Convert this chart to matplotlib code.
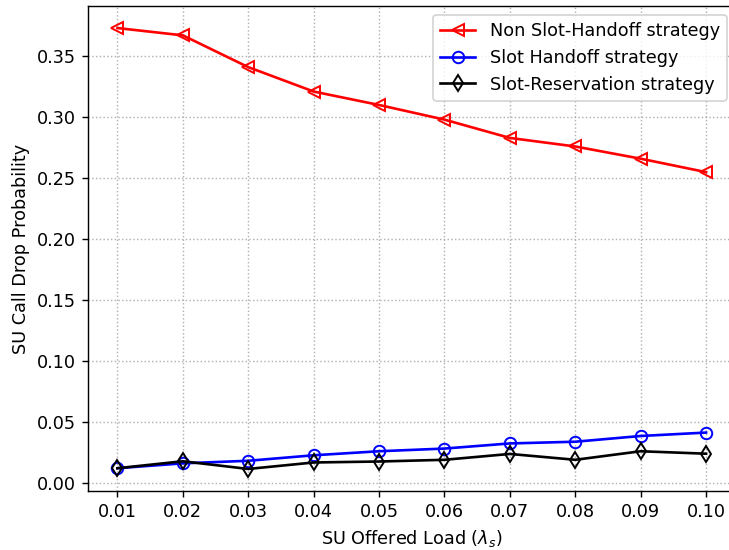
import matplotlib
matplotlib.use("Agg")
import matplotlib.pyplot as plt

load = [0.01, 0.02, 0.03, 0.04, 0.05, 0.06, 0.07, 0.08, 0.09, 0.10]
non_slot_handoff = [0.373, 0.367, 0.341, 0.321, 0.310, 0.298, 0.283, 0.276, 0.266, 0.255]
slot_handoff = [0.0125, 0.0165, 0.0186, 0.0231, 0.0264, 0.0286, 0.0328, 0.0342, 0.0389, 0.0417]
slot_reservation = [0.0125, 0.0182, 0.0119, 0.0172, 0.0180, 0.0194, 0.0242, 0.0194, 0.0264, 0.0244]
x_ticks = [0.01, 0.02, 0.03, 0.04, 0.05, 0.06, 0.07, 0.08, 0.09, 0.10]
x_tick_labels = ["0.01", "0.02", "0.03", "0.04", "0.05", "0.06", "0.07", "0.08", "0.09", "0.10"]

DPI = 127
W, H = 729, 550
fig = plt.figure(figsize=(W / DPI, H / DPI), dpi=DPI)
left, right, top, bottom = 88, 735.5, 6, 491
ax = fig.add_axes([left / W, 1 - bottom / H, (right - left) / W, (bottom - top) / H])

style = dict(markersize=6.5, fillstyle="none", linewidth=1.5, markeredgewidth=1.1)
ax.plot(load, non_slot_handoff, color="red", marker="<",
        label="Non Slot-Handoff strategy", **style)
ax.plot(load, slot_handoff, color="blue", marker="o",
        label="Slot Handoff strategy", **style)
ax.plot(load, slot_reservation, color="black", marker="d",
        label="Slot-Reservation strategy", **style)

ax.set_xticks(x_ticks)
ax.set_xticklabels(x_tick_labels)
ax.grid(True, linestyle=":", color="#b0b0b0", linewidth=0.8)
ax.set_xlabel(r"SU Offered Load ($\lambda_s$)")
ax.set_ylabel("SU Call Drop Probability")
ax.legend(loc="upper right")

fig.savefig("out.png", dpi=DPI)
